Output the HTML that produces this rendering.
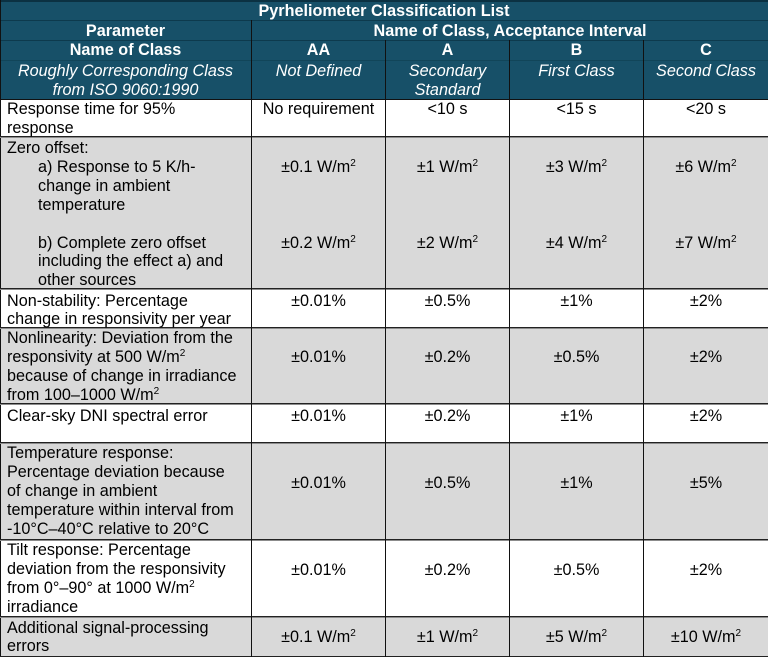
<!DOCTYPE html>
<html>
<head>
<meta charset="utf-8">
<style>
  html,body{margin:0;padding:0;}
  body{width:768px;height:657px;position:relative;overflow:hidden;background:#fff;
       font-family:"Liberation Sans",Arial,sans-serif;color:#000;}
  .bg{position:absolute;}
  .t{position:absolute;font-size:16.2px;line-height:18.9px;white-space:nowrap;}
  .h{color:#fff;}
  .b{font-weight:bold;}
  .i{font-style:italic;}
  .ctr{text-align:center;}
  .ln{position:absolute;background:#111;}
  sup{font-size:10px;vertical-align:6px;line-height:0;}
  .ind{padding-left:31px;}
</style>
</head>
<body>
<!-- header background -->
<div class="bg" style="left:0;top:0;width:768px;height:99px;background:#175068;"></div>
<!-- body row backgrounds -->
<div class="bg" style="left:0;top:99px;width:768px;height:38px;background:#fff;"></div>
<div class="bg" style="left:0;top:137px;width:768px;height:152px;background:#d9d9d9;"></div>
<div class="bg" style="left:0;top:289px;width:768px;height:39px;background:#fff;"></div>
<div class="bg" style="left:0;top:328px;width:768px;height:76px;background:#d9d9d9;"></div>
<div class="bg" style="left:0;top:404px;width:768px;height:39px;background:#fff;"></div>
<div class="bg" style="left:0;top:443px;width:768px;height:97px;background:#d9d9d9;"></div>
<div class="bg" style="left:0;top:540px;width:768px;height:77px;background:#fff;"></div>
<div class="bg" style="left:0;top:617px;width:768px;height:40px;background:#d9d9d9;"></div>

<!-- header lines -->
<div class="ln" style="left:0;top:0;width:768px;height:2px;background:#0b3142;"></div>
<div class="ln" style="left:0;top:20px;width:768px;height:1px;background:#0d3a4d;"></div>
<div class="ln" style="left:0;top:40px;width:768px;height:1px;background:#0d3a4d;"></div>
<div class="ln" style="left:0;top:60px;width:768px;height:1px;background:#114559;"></div>
<div class="ln" style="left:0;top:0;width:1px;height:657px;background:#111;"></div>

<!-- body horizontal lines -->
<div class="ln" style="left:0;top:99px;width:768px;height:1px;background:#111;"></div>
<div class="ln" style="left:0;top:136px;width:768px;height:1px;background:#222;"></div>
<div class="ln" style="left:0;top:137px;width:768px;height:1px;background:#8c8c8c;"></div>
<div class="ln" style="left:0;top:288px;width:768px;height:1px;background:#222;"></div>
<div class="ln" style="left:0;top:289px;width:768px;height:1px;background:#8c8c8c;"></div>
<div class="ln" style="left:0;top:327px;width:768px;height:1px;background:#222;"></div>
<div class="ln" style="left:0;top:328px;width:768px;height:1px;background:#8c8c8c;"></div>
<div class="ln" style="left:0;top:403px;width:768px;height:1px;background:#222;"></div>
<div class="ln" style="left:0;top:404px;width:768px;height:1px;background:#8c8c8c;"></div>
<div class="ln" style="left:0;top:442px;width:768px;height:1px;background:#222;"></div>
<div class="ln" style="left:0;top:443px;width:768px;height:1px;background:#8c8c8c;"></div>
<div class="ln" style="left:0;top:539px;width:768px;height:1px;background:#222;"></div>
<div class="ln" style="left:0;top:540px;width:768px;height:1px;background:#8c8c8c;"></div>
<div class="ln" style="left:0;top:616px;width:768px;height:1px;background:#222;"></div>
<div class="ln" style="left:0;top:617px;width:768px;height:1px;background:#8c8c8c;"></div>
<div class="ln" style="left:0;top:656px;width:768px;height:1px;background:#222;"></div>

<!-- vertical lines -->
<div class="ln" style="left:251px;top:20px;width:1px;height:637px;"></div>
<div class="ln" style="left:385px;top:40px;width:1px;height:617px;"></div>
<div class="ln" style="left:509px;top:40px;width:1px;height:617px;"></div>
<div class="ln" style="left:643px;top:40px;width:1px;height:617px;"></div>

<!-- header text -->
<div class="t h b ctr" style="left:0;width:768px;top:2px;">Pyrheliometer Classification List</div>
<div class="t h b ctr" style="left:0;width:251px;top:22px;">Parameter</div>
<div class="t h b ctr" style="left:252px;width:516px;top:22px;">Name of Class, Acceptance Interval</div>
<div class="t h b ctr" style="left:0;width:251px;top:41px;">Name of Class</div>
<div class="t h b ctr" style="left:252px;width:133px;top:41px;">AA</div>
<div class="t h b ctr" style="left:386px;width:123px;top:41px;">A</div>
<div class="t h b ctr" style="left:510px;width:133px;top:41px;">B</div>
<div class="t h b ctr" style="left:644px;width:124px;top:41px;">C</div>
<div class="t h i ctr" style="left:0;width:251px;top:62px;">Roughly Corresponding Class<br>from ISO 9060:1990</div>
<div class="t h i ctr" style="left:252px;width:133px;top:62px;">Not Defined</div>
<div class="t h i ctr" style="left:386px;width:123px;top:62px;">Secondary<br>Standard</div>
<div class="t h i ctr" style="left:510px;width:133px;top:62px;">First Class</div>
<div class="t h i ctr" style="left:644px;width:124px;top:62px;">Second Class</div>

<!-- left column text -->
<div class="t" style="left:7px;top:100px;">Response time for 95%<br>response</div>
<div class="t" style="left:7px;top:139px;">Zero offset:<br><span class="ind">a) Response to 5 K/h-</span><br><span class="ind">change in ambient</span><br><span class="ind">temperature</span><br>&nbsp;<br><span class="ind">b) Complete zero offset</span><br><span class="ind">including the effect a) and</span><br><span class="ind">other sources</span></div>
<div class="t" style="left:7px;top:291.5px;">Non-stability: Percentage<br>change in responsivity per year</div>
<div class="t" style="left:7px;top:329px;">Nonlinearity: Deviation from the<br>responsivity at 500 W/m<sup>2</sup><br>because of change in irradiance<br>from 100–1000 W/m<sup>2</sup></div>
<div class="t" style="left:7px;top:406.5px;">Clear-sky DNI spectral error</div>
<div class="t" style="left:7px;top:444px;">Temperature response:<br>Percentage deviation because<br>of change in ambient<br>temperature within interval from<br>-10°C–40°C relative to 20°C</div>
<div class="t" style="left:7px;top:541px;">Tilt response: Percentage<br>deviation from the responsivity<br>from 0°–90° at 1000 W/m<sup>2</sup><br>irradiance</div>
<div class="t" style="left:7px;top:618.5px;">Additional signal-processing<br>errors</div>

<!-- AA column -->
<div class="t ctr" style="left:252px;width:133px;top:100px;">No requirement</div>
<div class="t ctr" style="left:252px;width:133px;top:158px;">±0.1 W/m<sup>2</sup></div>
<div class="t ctr" style="left:252px;width:133px;top:233.5px;">±0.2 W/m<sup>2</sup></div>
<div class="t ctr" style="left:252px;width:133px;top:291.5px;">±0.01%</div>
<div class="t ctr" style="left:252px;width:133px;top:348px;">±0.01%</div>
<div class="t ctr" style="left:252px;width:133px;top:406.5px;">±0.01%</div>
<div class="t ctr" style="left:252px;width:133px;top:473.5px;">±0.01%</div>
<div class="t ctr" style="left:252px;width:133px;top:561px;">±0.01%</div>
<div class="t ctr" style="left:252px;width:133px;top:628px;">±0.1 W/m<sup>2</sup></div>

<!-- A column -->
<div class="t ctr" style="left:386px;width:123px;top:100px;">&lt;10 s</div>
<div class="t ctr" style="left:386px;width:123px;top:158px;">±1 W/m<sup>2</sup></div>
<div class="t ctr" style="left:386px;width:123px;top:233.5px;">±2 W/m<sup>2</sup></div>
<div class="t ctr" style="left:386px;width:123px;top:291.5px;">±0.5%</div>
<div class="t ctr" style="left:386px;width:123px;top:348px;">±0.2%</div>
<div class="t ctr" style="left:386px;width:123px;top:406.5px;">±0.2%</div>
<div class="t ctr" style="left:386px;width:123px;top:473.5px;">±0.5%</div>
<div class="t ctr" style="left:386px;width:123px;top:561px;">±0.2%</div>
<div class="t ctr" style="left:386px;width:123px;top:628px;">±1 W/m<sup>2</sup></div>

<!-- B column -->
<div class="t ctr" style="left:510px;width:133px;top:100px;">&lt;15 s</div>
<div class="t ctr" style="left:510px;width:133px;top:158px;">±3 W/m<sup>2</sup></div>
<div class="t ctr" style="left:510px;width:133px;top:233.5px;">±4 W/m<sup>2</sup></div>
<div class="t ctr" style="left:510px;width:133px;top:291.5px;">±1%</div>
<div class="t ctr" style="left:510px;width:133px;top:348px;">±0.5%</div>
<div class="t ctr" style="left:510px;width:133px;top:406.5px;">±1%</div>
<div class="t ctr" style="left:510px;width:133px;top:473.5px;">±1%</div>
<div class="t ctr" style="left:510px;width:133px;top:561px;">±0.5%</div>
<div class="t ctr" style="left:510px;width:133px;top:628px;">±5 W/m<sup>2</sup></div>

<!-- C column -->
<div class="t ctr" style="left:644px;width:124px;top:100px;">&lt;20 s</div>
<div class="t ctr" style="left:644px;width:124px;top:158px;">±6 W/m<sup>2</sup></div>
<div class="t ctr" style="left:644px;width:124px;top:233.5px;">±7 W/m<sup>2</sup></div>
<div class="t ctr" style="left:644px;width:124px;top:291.5px;">±2%</div>
<div class="t ctr" style="left:644px;width:124px;top:348px;">±2%</div>
<div class="t ctr" style="left:644px;width:124px;top:406.5px;">±2%</div>
<div class="t ctr" style="left:644px;width:124px;top:473.5px;">±5%</div>
<div class="t ctr" style="left:644px;width:124px;top:561px;">±2%</div>
<div class="t ctr" style="left:644px;width:124px;top:628px;">±10 W/m<sup>2</sup></div>
</body>
</html>
